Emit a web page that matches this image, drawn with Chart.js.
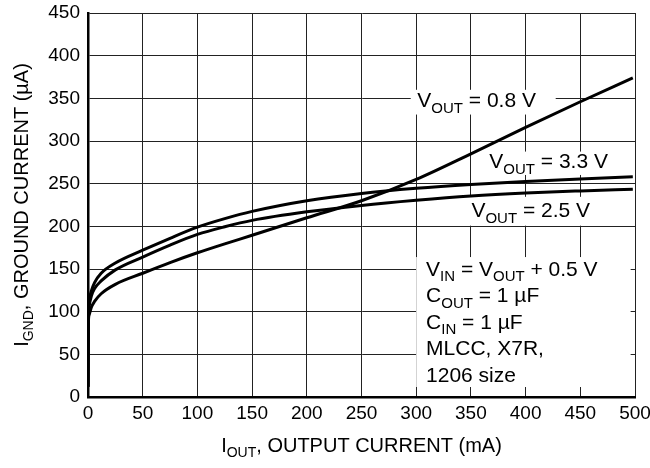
<!DOCTYPE html>
<html lang="en">
<head>
<meta charset="utf-8" />
<title>Ground current vs output current</title>
<script src="https://cdn.jsdelivr.net/npm/chart.js@4.4.1/dist/chart.umd.min.js"></script>
<style>
  html, body { margin: 0; padding: 0; background: #fff; }
  #wrap { width: 650px; height: 468px; }
</style>
</head>
<body>
<div id="wrap"><canvas id="chart" width="650" height="468"></canvas></div>
<script>
// output current (mA) and ground current (uA)
const outputCurrent = [0, 0.3, 1, 3, 6, 12, 25, 50, 75, 100, 125, 150, 200, 250, 300, 350, 400, 450, 498];
const gnd33 = [12, 90, 112, 124, 134, 145, 157, 172, 186, 199, 209, 217.5, 230, 238.5, 244.5, 249, 252.5, 255.5, 258];
const gnd25 = [12, 88, 106, 118, 127, 136, 149, 164, 178, 190.5, 199.5, 207, 217, 224.5, 230.5, 235.5, 239, 241.5, 243.5];
const gnd08 = [12, 85, 96, 105, 112, 121, 132, 145, 157.5, 169, 179.5, 189.5, 210, 230, 255, 285, 316, 346, 374];

const xTicks = [0, 50, 100, 150, 200, 250, 300, 350, 400, 450, 500];
const yTicks = [0, 50, 100, 150, 200, 250, 300, 350, 400, 450];

const FONT = '"Liberation Sans", Arial, Helvetica, sans-serif';

// text runs: [text, isSubscript]
function runWidth(ctx, runs, size) {
  let w = 0;
  runs.forEach(([t, sub]) => {
    ctx.font = `${sub ? Math.round(size * 0.72) : size}px ${FONT}`;
    w += ctx.measureText(t).width;
  });
  return w;
}

function drawRuns(ctx, runs, x, y, size, align) {
  let cx = align === "center" ? x - runWidth(ctx, runs, size) / 2 : x;
  ctx.textAlign = "left";
  ctx.textBaseline = "alphabetic";
  runs.forEach(([t, sub]) => {
    ctx.font = `${sub ? Math.round(size * 0.72) : size}px ${FONT}`;
    ctx.fillText(t, cx, sub ? y + size * 0.27 : y);
    cx += ctx.measureText(t).width;
  });
}

const curveLabels = [
  { runs: [["V"], ["OUT", true], [" = 0.8 V"]], at: [301, 339.7], box: [295, 427.5, 360, 331] },
  { runs: [["V"], ["OUT", true], [" = 3.3 V"]], at: [366.8, 268], box: [363, 482, 287.6, 260.2] },
  { runs: [["V"], ["OUT", true], [" = 2.5 V"]], at: [350.5, 211], box: [347, 465, 234.6, 200.8] },
];

const noteLines = [
  [["V"], ["IN", true], [" = V"], ["OUT", true], [" + 0.5 V"]],
  [["C"], ["OUT", true], [" = 1 \u00b5F"]],
  [["C"], ["IN", true], [" = 1 \u00b5F"]],
  [["MLCC, X7R,"]],
  [["1206 size"]],
];

const labelPlugin = {
  id: "labels",
  beforeDatasetsDraw(chart) {
    const { ctx, scales: { x, y } } = chart;
    ctx.save();
    ctx.fillStyle = "#fff";
    curveLabels.forEach((l) => {
      const [x0, x1, y0, y1] = l.box;
      ctx.fillRect(x.getPixelForValue(x0), y.getPixelForValue(y0),
        x.getPixelForValue(x1) - x.getPixelForValue(x0), y.getPixelForValue(y1) - y.getPixelForValue(y0));
    });
    // conditions box
    const bx0 = x.getPixelForValue(300), bx1 = x.getPixelForValue(496);
    const by0 = y.getPixelForValue(164), by1 = y.getPixelForValue(11.7);
    ctx.fillRect(bx0, by0, bx1 - bx0, by1 - by0);

    ctx.fillStyle = "#000";
    curveLabels.forEach((l) => {
      drawRuns(ctx, l.runs, x.getPixelForValue(l.at[0]), y.getPixelForValue(l.at[1]), 21, "left");
    });
    noteLines.forEach((runs, i) => {
      drawRuns(ctx, runs, x.getPixelForValue(309), by0 + 18.5 + i * 26.6, 21, "left");
    });
    ctx.restore();
  },
  afterDraw(chart) {
    const { ctx, chartArea } = chart;
    ctx.save();
    ctx.fillStyle = "#000";
    drawRuns(ctx, [["I"], ["OUT", true], [", OUTPUT CURRENT (mA)"]],
      (chartArea.left + chartArea.right) / 2, 452, 20, "center");
    ctx.translate(28, (chartArea.top + chartArea.bottom) / 2);
    ctx.rotate(-Math.PI / 2);
    drawRuns(ctx, [["I"], ["GND", true], [", GROUND CURRENT (\u00b5A)"]], 0, 0, 20, "center");
    ctx.restore();
  },
};

const line = (data) => ({
  data: outputCurrent.map((v, i) => ({ x: v, y: data[i] })),
  borderColor: "#000",
  borderWidth: 3,
  pointRadius: 0,
  fill: false,
  cubicInterpolationMode: "monotone",
});

new Chart(document.getElementById("chart"), {
  type: "line",
  data: { datasets: [line(gnd33), line(gnd25), line(gnd08)] },
  plugins: [labelPlugin],
  options: {
    responsive: false,
    animation: false,
    layout: { padding: { top: 13, right: 15, left: 0, bottom: 0 } },
    plugins: { legend: { display: false }, tooltip: { enabled: false } },
    scales: {
      x: {
        type: "linear",
        min: 0,
        max: 500,
        afterBuildTicks: (s) => { s.ticks = xTicks.map((v) => ({ value: v })); },
        afterFit: (s) => { s.height = 71; s.paddingLeft = 0; s.paddingRight = 0; },
        ticks: { font: { family: FONT, size: 19 }, color: "#000", padding: 5, maxRotation: 0, autoSkip: false },
        grid: { color: "#222", lineWidth: 1, drawTicks: false },
        border: { color: "#000", width: 2.5 },
      },
      y: {
        min: 0,
        max: 450,
        afterBuildTicks: (s) => { s.ticks = yTicks.map((v) => ({ value: v })); },
        afterFit: (s) => { s.width = 88; s.paddingTop = 0; s.paddingBottom = 0; },
        ticks: { font: { family: FONT, size: 19 }, color: "#000", padding: 8, autoSkip: false },
        grid: { color: "#222", lineWidth: 1, drawTicks: false },
        border: { color: "#000", width: 2.5 },
      },
    },
  },
});
</script>
</body>
</html>
